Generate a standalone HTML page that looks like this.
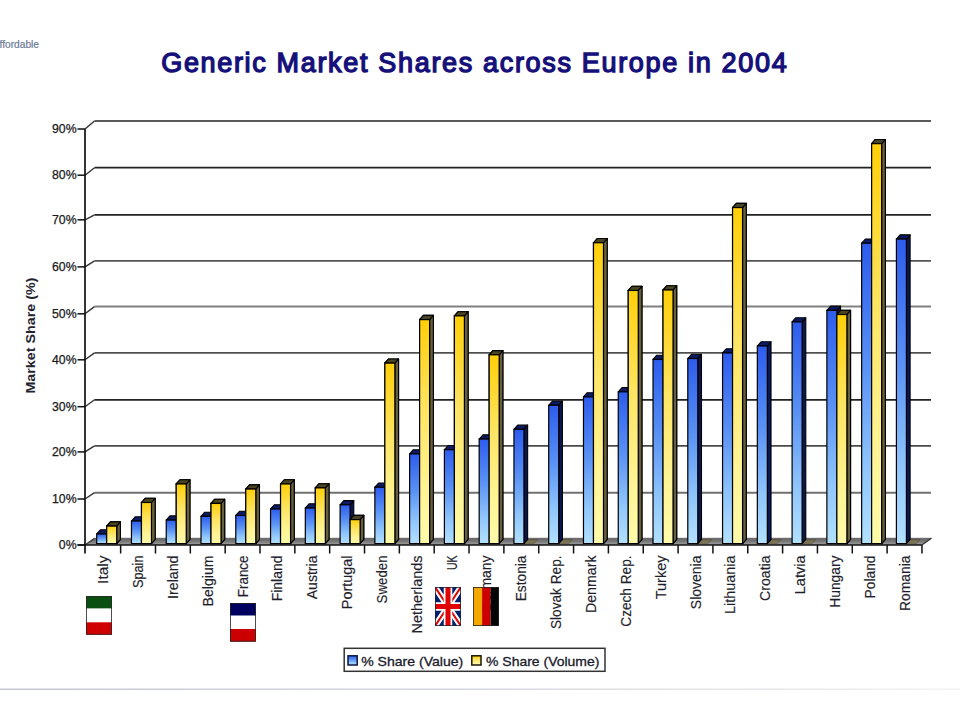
<!DOCTYPE html><html><head><meta charset="utf-8"><style>html,body{margin:0;padding:0;background:#fff;width:960px;height:720px;overflow:hidden}svg{display:block}text{font-family:"Liberation Sans",sans-serif}</style></head><body>
<svg width="960" height="720" viewBox="0 0 960 720">
<defs>
<linearGradient id="gb" x1="0" y1="0" x2="0" y2="1"><stop offset="0" stop-color="#2d5ced"/><stop offset="0.4" stop-color="#5890f4"/><stop offset="0.75" stop-color="#90c6fc"/><stop offset="1" stop-color="#b2e0ff"/></linearGradient>
<linearGradient id="gy" x1="0" y1="0" x2="0" y2="1"><stop offset="0" stop-color="#ffcf08"/><stop offset="0.4" stop-color="#fde462"/><stop offset="0.75" stop-color="#fff394"/><stop offset="1" stop-color="#fffbaa"/></linearGradient>
<linearGradient id="gf" x1="0" y1="0" x2="0" y2="1"><stop offset="0" stop-color="#646464"/><stop offset="0.5" stop-color="#7a7a7a"/><stop offset="1" stop-color="#a4a4a4"/></linearGradient>
<linearGradient id="gl" x1="0" y1="0" x2="1" y2="0"><stop offset="0" stop-color="#c4c8d4"/><stop offset="0.5" stop-color="#d6d8de"/><stop offset="1" stop-color="#f2f2f2"/></linearGradient>
</defs>
<text x="-0.5" y="48.3" font-size="10.5" fill="#6a7898" stroke="#6a7898" stroke-width="0.2" textLength="39.5" lengthAdjust="spacingAndGlyphs">ffordable</text>
<text x="161.2" y="71.7" font-size="27" fill="#16107a" stroke="#16107a" stroke-width="1.35" textLength="625.5" lengthAdjust="spacing">Generic Market Shares across Europe in 2004</text>
<text transform="translate(35.2,393.6) rotate(-90)" font-size="12.6" font-weight="bold" fill="#23232f" textLength="116"  lengthAdjust="spacingAndGlyphs">Market Share (%)</text>
<polygon points="85.0,545.0 921.9,545.0 931.4,538.3 94.5,538.3" fill="url(#gf)"/>
<line x1="94.5" y1="538.3" x2="931.4" y2="538.3" stroke="#666" stroke-width="1"/>
<line x1="85.0" y1="545.0" x2="94.5" y2="538.3" stroke="#333" stroke-width="1.2"/>
<line x1="921.9" y1="545.0" x2="931.4" y2="538.3" stroke="#333" stroke-width="1.2"/>
<polyline points="94.5,121 931,121" fill="none" stroke="#5a5a5a" stroke-width="1.9"/>
<line x1="85.0" y1="129.00" x2="94.5" y2="121" stroke="#333" stroke-width="1.4"/>
<polyline points="94.5,167.7 931,167.7" fill="none" stroke="#222222" stroke-width="1.7"/>
<line x1="85.0" y1="175.20" x2="94.5" y2="167.7" stroke="#333" stroke-width="1.4"/>
<polyline points="94.5,214.8 931,214.8" fill="none" stroke="#222222" stroke-width="1.7"/>
<line x1="85.0" y1="219.80" x2="94.5" y2="214.8" stroke="#333" stroke-width="1.4"/>
<polyline points="94.5,260.8 931,260.8" fill="none" stroke="#555555" stroke-width="1.8"/>
<line x1="85.0" y1="266.90" x2="94.5" y2="260.8" stroke="#333" stroke-width="1.4"/>
<polyline points="94.5,306.6 931,306.6" fill="none" stroke="#808080" stroke-width="2.0"/>
<line x1="85.0" y1="313.80" x2="94.5" y2="306.6" stroke="#333" stroke-width="1.4"/>
<polyline points="94.5,352.9 931,352.9" fill="none" stroke="#505050" stroke-width="1.8"/>
<line x1="85.0" y1="359.80" x2="94.5" y2="352.9" stroke="#333" stroke-width="1.4"/>
<polyline points="94.5,399.8 931,399.8" fill="none" stroke="#222222" stroke-width="1.7"/>
<line x1="85.0" y1="406.70" x2="94.5" y2="399.8" stroke="#333" stroke-width="1.4"/>
<polyline points="94.5,445.8 931,445.8" fill="none" stroke="#4a4a4a" stroke-width="1.8"/>
<line x1="85.0" y1="451.90" x2="94.5" y2="445.8" stroke="#333" stroke-width="1.4"/>
<polyline points="94.5,492.7 931,492.7" fill="none" stroke="#707070" stroke-width="1.9"/>
<line x1="85.0" y1="499.00" x2="94.5" y2="492.7" stroke="#333" stroke-width="1.4"/>
<line x1="77.5" y1="545.00" x2="85.0" y2="545.00" stroke="#111" stroke-width="1.5"/>
<text x="76.6" y="548.90" font-size="12.3" fill="#1a1a1a" stroke="#1a1a1a" stroke-width="0.25" text-anchor="end">0%</text>
<line x1="77.5" y1="499.00" x2="85.0" y2="499.00" stroke="#111" stroke-width="1.5"/>
<text x="76.6" y="502.90" font-size="12.3" fill="#1a1a1a" stroke="#1a1a1a" stroke-width="0.25" text-anchor="end">10%</text>
<line x1="77.5" y1="451.90" x2="85.0" y2="451.90" stroke="#111" stroke-width="1.5"/>
<text x="76.6" y="455.80" font-size="12.3" fill="#1a1a1a" stroke="#1a1a1a" stroke-width="0.25" text-anchor="end">20%</text>
<line x1="77.5" y1="406.70" x2="85.0" y2="406.70" stroke="#111" stroke-width="1.5"/>
<text x="76.6" y="410.60" font-size="12.3" fill="#1a1a1a" stroke="#1a1a1a" stroke-width="0.25" text-anchor="end">30%</text>
<line x1="77.5" y1="359.80" x2="85.0" y2="359.80" stroke="#111" stroke-width="1.5"/>
<text x="76.6" y="363.70" font-size="12.3" fill="#1a1a1a" stroke="#1a1a1a" stroke-width="0.25" text-anchor="end">40%</text>
<line x1="77.5" y1="313.80" x2="85.0" y2="313.80" stroke="#111" stroke-width="1.5"/>
<text x="76.6" y="317.70" font-size="12.3" fill="#1a1a1a" stroke="#1a1a1a" stroke-width="0.25" text-anchor="end">50%</text>
<line x1="77.5" y1="266.90" x2="85.0" y2="266.90" stroke="#111" stroke-width="1.5"/>
<text x="76.6" y="270.80" font-size="12.3" fill="#1a1a1a" stroke="#1a1a1a" stroke-width="0.25" text-anchor="end">60%</text>
<line x1="77.5" y1="219.80" x2="85.0" y2="219.80" stroke="#111" stroke-width="1.5"/>
<text x="76.6" y="223.70" font-size="12.3" fill="#1a1a1a" stroke="#1a1a1a" stroke-width="0.25" text-anchor="end">70%</text>
<line x1="77.5" y1="175.20" x2="85.0" y2="175.20" stroke="#111" stroke-width="1.5"/>
<text x="76.6" y="179.10" font-size="12.3" fill="#1a1a1a" stroke="#1a1a1a" stroke-width="0.25" text-anchor="end">80%</text>
<line x1="77.5" y1="129.00" x2="85.0" y2="129.00" stroke="#111" stroke-width="1.5"/>
<text x="76.6" y="132.90" font-size="12.3" fill="#1a1a1a" stroke="#1a1a1a" stroke-width="0.25" text-anchor="end">90%</text>
<polygon points="116.70,543.6 120.40,539.4 120.40,521.91 116.70,526.11" fill="#66603e" stroke="#000" stroke-width="1.1" stroke-linejoin="round"/><polygon points="106.70,526.11 110.40,521.91 120.40,521.91 116.70,526.11" fill="#4a4422" stroke="#000" stroke-width="1.1" stroke-linejoin="round"/><rect x="106.70" y="526.11" width="10.0" height="17.49" fill="url(#gy)" stroke="#000" stroke-width="1.2"/>
<polygon points="106.70,543.6 110.40,539.4 110.40,529.78 106.70,533.98" fill="#0a1650" stroke="#000" stroke-width="1.1" stroke-linejoin="round"/><polygon points="96.70,533.98 100.40,529.78 110.40,529.78 106.70,533.98" fill="#0c1a64" stroke="#000" stroke-width="1.1" stroke-linejoin="round"/><rect x="96.70" y="533.98" width="10.0" height="9.62" fill="url(#gb)" stroke="#000" stroke-width="1.2"/>
<polygon points="151.47,543.6 155.17,539.4 155.17,498.29 151.47,502.49" fill="#66603e" stroke="#000" stroke-width="1.1" stroke-linejoin="round"/><polygon points="141.47,502.49 145.17,498.29 155.17,498.29 151.47,502.49" fill="#4a4422" stroke="#000" stroke-width="1.1" stroke-linejoin="round"/><rect x="141.47" y="502.49" width="10.0" height="41.11" fill="url(#gy)" stroke="#000" stroke-width="1.2"/>
<polygon points="141.47,543.6 145.17,539.4 145.17,516.81 141.47,521.01" fill="#0a1650" stroke="#000" stroke-width="1.1" stroke-linejoin="round"/><polygon points="131.47,521.01 135.17,516.81 145.17,516.81 141.47,521.01" fill="#0c1a64" stroke="#000" stroke-width="1.1" stroke-linejoin="round"/><rect x="131.47" y="521.01" width="10.0" height="22.59" fill="url(#gb)" stroke="#000" stroke-width="1.2"/>
<polygon points="186.24,543.6 189.94,539.4 189.94,479.77 186.24,483.97" fill="#66603e" stroke="#000" stroke-width="1.1" stroke-linejoin="round"/><polygon points="176.24,483.97 179.94,479.77 189.94,479.77 186.24,483.97" fill="#4a4422" stroke="#000" stroke-width="1.1" stroke-linejoin="round"/><rect x="176.24" y="483.97" width="10.0" height="59.63" fill="url(#gy)" stroke="#000" stroke-width="1.2"/>
<polygon points="176.24,543.6 179.94,539.4 179.94,515.89 176.24,520.09" fill="#0a1650" stroke="#000" stroke-width="1.1" stroke-linejoin="round"/><polygon points="166.24,520.09 169.94,515.89 179.94,515.89 176.24,520.09" fill="#0c1a64" stroke="#000" stroke-width="1.1" stroke-linejoin="round"/><rect x="166.24" y="520.09" width="10.0" height="23.51" fill="url(#gb)" stroke="#000" stroke-width="1.2"/>
<polygon points="221.01,543.6 224.71,539.4 224.71,499.22 221.01,503.42" fill="#66603e" stroke="#000" stroke-width="1.1" stroke-linejoin="round"/><polygon points="211.01,503.42 214.71,499.22 224.71,499.22 221.01,503.42" fill="#4a4422" stroke="#000" stroke-width="1.1" stroke-linejoin="round"/><rect x="211.01" y="503.42" width="10.0" height="40.18" fill="url(#gy)" stroke="#000" stroke-width="1.2"/>
<polygon points="211.01,543.6 214.71,539.4 214.71,512.18 211.01,516.38" fill="#0a1650" stroke="#000" stroke-width="1.1" stroke-linejoin="round"/><polygon points="201.01,516.38 204.71,512.18 214.71,512.18 211.01,516.38" fill="#0c1a64" stroke="#000" stroke-width="1.1" stroke-linejoin="round"/><rect x="201.01" y="516.38" width="10.0" height="27.22" fill="url(#gb)" stroke="#000" stroke-width="1.2"/>
<polygon points="255.78,543.6 259.48,539.4 259.48,484.87 255.78,489.07" fill="#66603e" stroke="#000" stroke-width="1.1" stroke-linejoin="round"/><polygon points="245.78,489.07 249.48,484.87 259.48,484.87 255.78,489.07" fill="#4a4422" stroke="#000" stroke-width="1.1" stroke-linejoin="round"/><rect x="245.78" y="489.07" width="10.0" height="54.53" fill="url(#gy)" stroke="#000" stroke-width="1.2"/>
<polygon points="245.78,543.6 249.48,539.4 249.48,511.26 245.78,515.46" fill="#0a1650" stroke="#000" stroke-width="1.1" stroke-linejoin="round"/><polygon points="235.78,515.46 239.48,511.26 249.48,511.26 245.78,515.46" fill="#0c1a64" stroke="#000" stroke-width="1.1" stroke-linejoin="round"/><rect x="235.78" y="515.46" width="10.0" height="28.14" fill="url(#gb)" stroke="#000" stroke-width="1.2"/>
<polygon points="290.55,543.6 294.25,539.4 294.25,479.77 290.55,483.97" fill="#66603e" stroke="#000" stroke-width="1.1" stroke-linejoin="round"/><polygon points="280.55,483.97 284.25,479.77 294.25,479.77 290.55,483.97" fill="#4a4422" stroke="#000" stroke-width="1.1" stroke-linejoin="round"/><rect x="280.55" y="483.97" width="10.0" height="59.63" fill="url(#gy)" stroke="#000" stroke-width="1.2"/>
<polygon points="280.55,543.6 284.25,539.4 284.25,504.78 280.55,508.98" fill="#0a1650" stroke="#000" stroke-width="1.1" stroke-linejoin="round"/><polygon points="270.55,508.98 274.25,504.78 284.25,504.78 280.55,508.98" fill="#0c1a64" stroke="#000" stroke-width="1.1" stroke-linejoin="round"/><rect x="270.55" y="508.98" width="10.0" height="34.62" fill="url(#gb)" stroke="#000" stroke-width="1.2"/>
<polygon points="325.32,543.6 329.02,539.4 329.02,483.71 325.32,487.91" fill="#66603e" stroke="#000" stroke-width="1.1" stroke-linejoin="round"/><polygon points="315.32,487.91 319.02,483.71 329.02,483.71 325.32,487.91" fill="#4a4422" stroke="#000" stroke-width="1.1" stroke-linejoin="round"/><rect x="315.32" y="487.91" width="10.0" height="55.69" fill="url(#gy)" stroke="#000" stroke-width="1.2"/>
<polygon points="315.32,543.6 319.02,539.4 319.02,503.85 315.32,508.05" fill="#0a1650" stroke="#000" stroke-width="1.1" stroke-linejoin="round"/><polygon points="305.32,508.05 309.02,503.85 319.02,503.85 315.32,508.05" fill="#0c1a64" stroke="#000" stroke-width="1.1" stroke-linejoin="round"/><rect x="305.32" y="508.05" width="10.0" height="35.55" fill="url(#gb)" stroke="#000" stroke-width="1.2"/>
<polygon points="360.09,543.6 363.79,539.4 363.79,515.42 360.09,519.62" fill="#66603e" stroke="#000" stroke-width="1.1" stroke-linejoin="round"/><polygon points="350.09,519.62 353.79,515.42 363.79,515.42 360.09,519.62" fill="#4a4422" stroke="#000" stroke-width="1.1" stroke-linejoin="round"/><rect x="350.09" y="519.62" width="10.0" height="23.98" fill="url(#gy)" stroke="#000" stroke-width="1.2"/>
<polygon points="350.09,543.6 353.79,539.4 353.79,500.61 350.09,504.81" fill="#0a1650" stroke="#000" stroke-width="1.1" stroke-linejoin="round"/><polygon points="340.09,504.81 343.79,500.61 353.79,500.61 350.09,504.81" fill="#0c1a64" stroke="#000" stroke-width="1.1" stroke-linejoin="round"/><rect x="340.09" y="504.81" width="10.0" height="38.79" fill="url(#gb)" stroke="#000" stroke-width="1.2"/>
<polygon points="394.86,543.6 398.56,539.4 398.56,358.93 394.86,363.13" fill="#66603e" stroke="#000" stroke-width="1.1" stroke-linejoin="round"/><polygon points="384.86,363.13 388.56,358.93 398.56,358.93 394.86,363.13" fill="#4a4422" stroke="#000" stroke-width="1.1" stroke-linejoin="round"/><rect x="384.86" y="363.13" width="10.0" height="180.47" fill="url(#gy)" stroke="#000" stroke-width="1.2"/>
<polygon points="384.86,543.6 388.56,539.4 388.56,483.01 384.86,487.21" fill="#0a1650" stroke="#000" stroke-width="1.1" stroke-linejoin="round"/><polygon points="374.86,487.21 378.56,483.01 388.56,483.01 384.86,487.21" fill="#0c1a64" stroke="#000" stroke-width="1.1" stroke-linejoin="round"/><rect x="374.86" y="487.21" width="10.0" height="56.39" fill="url(#gb)" stroke="#000" stroke-width="1.2"/>
<polygon points="429.63,543.6 433.33,539.4 433.33,315.41 429.63,319.61" fill="#66603e" stroke="#000" stroke-width="1.1" stroke-linejoin="round"/><polygon points="419.63,319.61 423.33,315.41 433.33,315.41 429.63,319.61" fill="#4a4422" stroke="#000" stroke-width="1.1" stroke-linejoin="round"/><rect x="419.63" y="319.61" width="10.0" height="223.99" fill="url(#gy)" stroke="#000" stroke-width="1.2"/>
<polygon points="419.63,543.6 423.33,539.4 423.33,449.68 419.63,453.88" fill="#0a1650" stroke="#000" stroke-width="1.1" stroke-linejoin="round"/><polygon points="409.63,453.88 413.33,449.68 423.33,449.68 419.63,453.88" fill="#0c1a64" stroke="#000" stroke-width="1.1" stroke-linejoin="round"/><rect x="409.63" y="453.88" width="10.0" height="89.72" fill="url(#gb)" stroke="#000" stroke-width="1.2"/>
<polygon points="464.40,543.6 468.10,539.4 468.10,311.70 464.40,315.90" fill="#66603e" stroke="#000" stroke-width="1.1" stroke-linejoin="round"/><polygon points="454.40,315.90 458.10,311.70 468.10,311.70 464.40,315.90" fill="#4a4422" stroke="#000" stroke-width="1.1" stroke-linejoin="round"/><rect x="454.40" y="315.90" width="10.0" height="227.70" fill="url(#gy)" stroke="#000" stroke-width="1.2"/>
<polygon points="454.40,543.6 458.10,539.4 458.10,445.51 454.40,449.71" fill="#0a1650" stroke="#000" stroke-width="1.1" stroke-linejoin="round"/><polygon points="444.40,449.71 448.10,445.51 458.10,445.51 454.40,449.71" fill="#0c1a64" stroke="#000" stroke-width="1.1" stroke-linejoin="round"/><rect x="444.40" y="449.71" width="10.0" height="93.89" fill="url(#gb)" stroke="#000" stroke-width="1.2"/>
<polygon points="499.17,543.6 502.87,539.4 502.87,350.60 499.17,354.80" fill="#66603e" stroke="#000" stroke-width="1.1" stroke-linejoin="round"/><polygon points="489.17,354.80 492.87,350.60 502.87,350.60 499.17,354.80" fill="#4a4422" stroke="#000" stroke-width="1.1" stroke-linejoin="round"/><rect x="489.17" y="354.80" width="10.0" height="188.80" fill="url(#gy)" stroke="#000" stroke-width="1.2"/>
<polygon points="489.17,543.6 492.87,539.4 492.87,434.86 489.17,439.06" fill="#0a1650" stroke="#000" stroke-width="1.1" stroke-linejoin="round"/><polygon points="479.17,439.06 482.87,434.86 492.87,434.86 489.17,439.06" fill="#0c1a64" stroke="#000" stroke-width="1.1" stroke-linejoin="round"/><rect x="479.17" y="439.06" width="10.0" height="104.54" fill="url(#gb)" stroke="#000" stroke-width="1.2"/>
<polygon points="523.94,543.70 527.64,539.50 537.64,539.50 533.94,543.70" fill="#7a6c3a" stroke="#3a3018" stroke-width="0.6" stroke-linejoin="round" opacity="0.6"/>
<polygon points="523.94,543.6 527.64,539.4 527.64,425.14 523.94,429.34" fill="#0a1650" stroke="#000" stroke-width="1.1" stroke-linejoin="round"/><polygon points="513.94,429.34 517.64,425.14 527.64,425.14 523.94,429.34" fill="#0c1a64" stroke="#000" stroke-width="1.1" stroke-linejoin="round"/><rect x="513.94" y="429.34" width="10.0" height="114.26" fill="url(#gb)" stroke="#000" stroke-width="1.2"/>
<polygon points="558.71,543.70 562.41,539.50 572.41,539.50 568.71,543.70" fill="#7a6c3a" stroke="#3a3018" stroke-width="0.6" stroke-linejoin="round" opacity="0.6"/>
<polygon points="558.71,543.6 562.41,539.4 562.41,401.06 558.71,405.26" fill="#0a1650" stroke="#000" stroke-width="1.1" stroke-linejoin="round"/><polygon points="548.71,405.26 552.41,401.06 562.41,401.06 558.71,405.26" fill="#0c1a64" stroke="#000" stroke-width="1.1" stroke-linejoin="round"/><rect x="548.71" y="405.26" width="10.0" height="138.34" fill="url(#gb)" stroke="#000" stroke-width="1.2"/>
<polygon points="603.48,543.6 607.18,539.4 607.18,238.55 603.48,242.75" fill="#66603e" stroke="#000" stroke-width="1.1" stroke-linejoin="round"/><polygon points="593.48,242.75 597.18,238.55 607.18,238.55 603.48,242.75" fill="#4a4422" stroke="#000" stroke-width="1.1" stroke-linejoin="round"/><rect x="593.48" y="242.75" width="10.0" height="300.85" fill="url(#gy)" stroke="#000" stroke-width="1.2"/>
<polygon points="593.48,543.6 597.18,539.4 597.18,392.73 593.48,396.93" fill="#0a1650" stroke="#000" stroke-width="1.1" stroke-linejoin="round"/><polygon points="583.48,396.93 587.18,392.73 597.18,392.73 593.48,396.93" fill="#0c1a64" stroke="#000" stroke-width="1.1" stroke-linejoin="round"/><rect x="583.48" y="396.93" width="10.0" height="146.67" fill="url(#gb)" stroke="#000" stroke-width="1.2"/>
<polygon points="638.25,543.6 641.95,539.4 641.95,286.24 638.25,290.44" fill="#66603e" stroke="#000" stroke-width="1.1" stroke-linejoin="round"/><polygon points="628.25,290.44 631.95,286.24 641.95,286.24 638.25,290.44" fill="#4a4422" stroke="#000" stroke-width="1.1" stroke-linejoin="round"/><rect x="628.25" y="290.44" width="10.0" height="253.16" fill="url(#gy)" stroke="#000" stroke-width="1.2"/>
<polygon points="628.25,543.6 631.95,539.4 631.95,387.64 628.25,391.84" fill="#0a1650" stroke="#000" stroke-width="1.1" stroke-linejoin="round"/><polygon points="618.25,391.84 621.95,387.64 631.95,387.64 628.25,391.84" fill="#0c1a64" stroke="#000" stroke-width="1.1" stroke-linejoin="round"/><rect x="618.25" y="391.84" width="10.0" height="151.76" fill="url(#gb)" stroke="#000" stroke-width="1.2"/>
<polygon points="673.02,543.6 676.72,539.4 676.72,285.78 673.02,289.98" fill="#66603e" stroke="#000" stroke-width="1.1" stroke-linejoin="round"/><polygon points="663.02,289.98 666.72,285.78 676.72,285.78 673.02,289.98" fill="#4a4422" stroke="#000" stroke-width="1.1" stroke-linejoin="round"/><rect x="663.02" y="289.98" width="10.0" height="253.62" fill="url(#gy)" stroke="#000" stroke-width="1.2"/>
<polygon points="663.02,543.6 666.72,539.4 666.72,355.23 663.02,359.43" fill="#0a1650" stroke="#000" stroke-width="1.1" stroke-linejoin="round"/><polygon points="653.02,359.43 656.72,355.23 666.72,355.23 663.02,359.43" fill="#0c1a64" stroke="#000" stroke-width="1.1" stroke-linejoin="round"/><rect x="653.02" y="359.43" width="10.0" height="184.17" fill="url(#gb)" stroke="#000" stroke-width="1.2"/>
<polygon points="697.79,543.70 701.49,539.50 711.49,539.50 707.79,543.70" fill="#7a6c3a" stroke="#3a3018" stroke-width="0.6" stroke-linejoin="round" opacity="0.6"/>
<polygon points="697.79,543.6 701.49,539.4 701.49,354.30 697.79,358.50" fill="#0a1650" stroke="#000" stroke-width="1.1" stroke-linejoin="round"/><polygon points="687.79,358.50 691.49,354.30 701.49,354.30 697.79,358.50" fill="#0c1a64" stroke="#000" stroke-width="1.1" stroke-linejoin="round"/><rect x="687.79" y="358.50" width="10.0" height="185.10" fill="url(#gb)" stroke="#000" stroke-width="1.2"/>
<polygon points="742.56,543.6 746.26,539.4 746.26,203.36 742.56,207.56" fill="#66603e" stroke="#000" stroke-width="1.1" stroke-linejoin="round"/><polygon points="732.56,207.56 736.26,203.36 746.26,203.36 742.56,207.56" fill="#4a4422" stroke="#000" stroke-width="1.1" stroke-linejoin="round"/><rect x="732.56" y="207.56" width="10.0" height="336.04" fill="url(#gy)" stroke="#000" stroke-width="1.2"/>
<polygon points="732.56,543.6 736.26,539.4 736.26,348.74 732.56,352.94" fill="#0a1650" stroke="#000" stroke-width="1.1" stroke-linejoin="round"/><polygon points="722.56,352.94 726.26,348.74 736.26,348.74 732.56,352.94" fill="#0c1a64" stroke="#000" stroke-width="1.1" stroke-linejoin="round"/><rect x="722.56" y="352.94" width="10.0" height="190.66" fill="url(#gb)" stroke="#000" stroke-width="1.2"/>
<polygon points="767.33,543.70 771.03,539.50 781.03,539.50 777.33,543.70" fill="#7a6c3a" stroke="#3a3018" stroke-width="0.6" stroke-linejoin="round" opacity="0.6"/>
<polygon points="767.33,543.6 771.03,539.4 771.03,341.80 767.33,346.00" fill="#0a1650" stroke="#000" stroke-width="1.1" stroke-linejoin="round"/><polygon points="757.33,346.00 761.03,341.80 771.03,341.80 767.33,346.00" fill="#0c1a64" stroke="#000" stroke-width="1.1" stroke-linejoin="round"/><rect x="757.33" y="346.00" width="10.0" height="197.60" fill="url(#gb)" stroke="#000" stroke-width="1.2"/>
<polygon points="802.10,543.70 805.80,539.50 815.80,539.50 812.10,543.70" fill="#7a6c3a" stroke="#3a3018" stroke-width="0.6" stroke-linejoin="round" opacity="0.6"/>
<polygon points="802.10,543.6 805.80,539.4 805.80,317.72 802.10,321.92" fill="#0a1650" stroke="#000" stroke-width="1.1" stroke-linejoin="round"/><polygon points="792.10,321.92 795.80,317.72 805.80,317.72 802.10,321.92" fill="#0c1a64" stroke="#000" stroke-width="1.1" stroke-linejoin="round"/><rect x="792.10" y="321.92" width="10.0" height="221.68" fill="url(#gb)" stroke="#000" stroke-width="1.2"/>
<polygon points="846.87,543.6 850.57,539.4 850.57,310.32 846.87,314.52" fill="#66603e" stroke="#000" stroke-width="1.1" stroke-linejoin="round"/><polygon points="836.87,314.52 840.57,310.32 850.57,310.32 846.87,314.52" fill="#4a4422" stroke="#000" stroke-width="1.1" stroke-linejoin="round"/><rect x="836.87" y="314.52" width="10.0" height="229.08" fill="url(#gy)" stroke="#000" stroke-width="1.2"/>
<polygon points="836.87,543.6 840.57,539.4 840.57,306.15 836.87,310.35" fill="#0a1650" stroke="#000" stroke-width="1.1" stroke-linejoin="round"/><polygon points="826.87,310.35 830.57,306.15 840.57,306.15 836.87,310.35" fill="#0c1a64" stroke="#000" stroke-width="1.1" stroke-linejoin="round"/><rect x="826.87" y="310.35" width="10.0" height="233.25" fill="url(#gb)" stroke="#000" stroke-width="1.2"/>
<polygon points="881.64,543.6 885.34,539.4 885.34,139.47 881.64,143.67" fill="#66603e" stroke="#000" stroke-width="1.1" stroke-linejoin="round"/><polygon points="871.64,143.67 875.34,139.47 885.34,139.47 881.64,143.67" fill="#4a4422" stroke="#000" stroke-width="1.1" stroke-linejoin="round"/><rect x="871.64" y="143.67" width="10.0" height="399.93" fill="url(#gy)" stroke="#000" stroke-width="1.2"/>
<polygon points="871.64,543.6 875.34,539.4 875.34,239.01 871.64,243.21" fill="#0a1650" stroke="#000" stroke-width="1.1" stroke-linejoin="round"/><polygon points="861.64,243.21 865.34,239.01 875.34,239.01 871.64,243.21" fill="#0c1a64" stroke="#000" stroke-width="1.1" stroke-linejoin="round"/><rect x="861.64" y="243.21" width="10.0" height="300.39" fill="url(#gb)" stroke="#000" stroke-width="1.2"/>
<polygon points="906.41,543.70 910.11,539.50 920.11,539.50 916.41,543.70" fill="#7a6c3a" stroke="#3a3018" stroke-width="0.6" stroke-linejoin="round" opacity="0.6"/>
<polygon points="906.41,543.6 910.11,539.4 910.11,234.85 906.41,239.05" fill="#0a1650" stroke="#000" stroke-width="1.1" stroke-linejoin="round"/><polygon points="896.41,239.05 900.11,234.85 910.11,234.85 906.41,239.05" fill="#0c1a64" stroke="#000" stroke-width="1.1" stroke-linejoin="round"/><rect x="896.41" y="239.05" width="10.0" height="304.55" fill="url(#gb)" stroke="#000" stroke-width="1.2"/>
<polygon points="116.70,543.6 120.40,539.4 120.40,521.91 116.70,526.11" fill="#66603e" stroke="#000" stroke-width="1.1" stroke-linejoin="round"/><polygon points="106.70,526.11 110.40,521.91 120.40,521.91 116.70,526.11" fill="#4a4422" stroke="#000" stroke-width="1.1" stroke-linejoin="round"/><rect x="106.70" y="526.11" width="10.0" height="17.49" fill="url(#gy)" stroke="#000" stroke-width="1.2"/>
<polygon points="151.47,543.6 155.17,539.4 155.17,498.29 151.47,502.49" fill="#66603e" stroke="#000" stroke-width="1.1" stroke-linejoin="round"/><polygon points="141.47,502.49 145.17,498.29 155.17,498.29 151.47,502.49" fill="#4a4422" stroke="#000" stroke-width="1.1" stroke-linejoin="round"/><rect x="141.47" y="502.49" width="10.0" height="41.11" fill="url(#gy)" stroke="#000" stroke-width="1.2"/>
<polygon points="186.24,543.6 189.94,539.4 189.94,479.77 186.24,483.97" fill="#66603e" stroke="#000" stroke-width="1.1" stroke-linejoin="round"/><polygon points="176.24,483.97 179.94,479.77 189.94,479.77 186.24,483.97" fill="#4a4422" stroke="#000" stroke-width="1.1" stroke-linejoin="round"/><rect x="176.24" y="483.97" width="10.0" height="59.63" fill="url(#gy)" stroke="#000" stroke-width="1.2"/>
<polygon points="221.01,543.6 224.71,539.4 224.71,499.22 221.01,503.42" fill="#66603e" stroke="#000" stroke-width="1.1" stroke-linejoin="round"/><polygon points="211.01,503.42 214.71,499.22 224.71,499.22 221.01,503.42" fill="#4a4422" stroke="#000" stroke-width="1.1" stroke-linejoin="round"/><rect x="211.01" y="503.42" width="10.0" height="40.18" fill="url(#gy)" stroke="#000" stroke-width="1.2"/>
<polygon points="255.78,543.6 259.48,539.4 259.48,484.87 255.78,489.07" fill="#66603e" stroke="#000" stroke-width="1.1" stroke-linejoin="round"/><polygon points="245.78,489.07 249.48,484.87 259.48,484.87 255.78,489.07" fill="#4a4422" stroke="#000" stroke-width="1.1" stroke-linejoin="round"/><rect x="245.78" y="489.07" width="10.0" height="54.53" fill="url(#gy)" stroke="#000" stroke-width="1.2"/>
<polygon points="290.55,543.6 294.25,539.4 294.25,479.77 290.55,483.97" fill="#66603e" stroke="#000" stroke-width="1.1" stroke-linejoin="round"/><polygon points="280.55,483.97 284.25,479.77 294.25,479.77 290.55,483.97" fill="#4a4422" stroke="#000" stroke-width="1.1" stroke-linejoin="round"/><rect x="280.55" y="483.97" width="10.0" height="59.63" fill="url(#gy)" stroke="#000" stroke-width="1.2"/>
<polygon points="325.32,543.6 329.02,539.4 329.02,483.71 325.32,487.91" fill="#66603e" stroke="#000" stroke-width="1.1" stroke-linejoin="round"/><polygon points="315.32,487.91 319.02,483.71 329.02,483.71 325.32,487.91" fill="#4a4422" stroke="#000" stroke-width="1.1" stroke-linejoin="round"/><rect x="315.32" y="487.91" width="10.0" height="55.69" fill="url(#gy)" stroke="#000" stroke-width="1.2"/>
<polygon points="360.09,543.6 363.79,539.4 363.79,515.42 360.09,519.62" fill="#66603e" stroke="#000" stroke-width="1.1" stroke-linejoin="round"/><polygon points="350.09,519.62 353.79,515.42 363.79,515.42 360.09,519.62" fill="#4a4422" stroke="#000" stroke-width="1.1" stroke-linejoin="round"/><rect x="350.09" y="519.62" width="10.0" height="23.98" fill="url(#gy)" stroke="#000" stroke-width="1.2"/>
<polygon points="394.86,543.6 398.56,539.4 398.56,358.93 394.86,363.13" fill="#66603e" stroke="#000" stroke-width="1.1" stroke-linejoin="round"/><polygon points="384.86,363.13 388.56,358.93 398.56,358.93 394.86,363.13" fill="#4a4422" stroke="#000" stroke-width="1.1" stroke-linejoin="round"/><rect x="384.86" y="363.13" width="10.0" height="180.47" fill="url(#gy)" stroke="#000" stroke-width="1.2"/>
<polygon points="429.63,543.6 433.33,539.4 433.33,315.41 429.63,319.61" fill="#66603e" stroke="#000" stroke-width="1.1" stroke-linejoin="round"/><polygon points="419.63,319.61 423.33,315.41 433.33,315.41 429.63,319.61" fill="#4a4422" stroke="#000" stroke-width="1.1" stroke-linejoin="round"/><rect x="419.63" y="319.61" width="10.0" height="223.99" fill="url(#gy)" stroke="#000" stroke-width="1.2"/>
<polygon points="464.40,543.6 468.10,539.4 468.10,311.70 464.40,315.90" fill="#66603e" stroke="#000" stroke-width="1.1" stroke-linejoin="round"/><polygon points="454.40,315.90 458.10,311.70 468.10,311.70 464.40,315.90" fill="#4a4422" stroke="#000" stroke-width="1.1" stroke-linejoin="round"/><rect x="454.40" y="315.90" width="10.0" height="227.70" fill="url(#gy)" stroke="#000" stroke-width="1.2"/>
<polygon points="499.17,543.6 502.87,539.4 502.87,350.60 499.17,354.80" fill="#66603e" stroke="#000" stroke-width="1.1" stroke-linejoin="round"/><polygon points="489.17,354.80 492.87,350.60 502.87,350.60 499.17,354.80" fill="#4a4422" stroke="#000" stroke-width="1.1" stroke-linejoin="round"/><rect x="489.17" y="354.80" width="10.0" height="188.80" fill="url(#gy)" stroke="#000" stroke-width="1.2"/>
<polygon points="603.48,543.6 607.18,539.4 607.18,238.55 603.48,242.75" fill="#66603e" stroke="#000" stroke-width="1.1" stroke-linejoin="round"/><polygon points="593.48,242.75 597.18,238.55 607.18,238.55 603.48,242.75" fill="#4a4422" stroke="#000" stroke-width="1.1" stroke-linejoin="round"/><rect x="593.48" y="242.75" width="10.0" height="300.85" fill="url(#gy)" stroke="#000" stroke-width="1.2"/>
<polygon points="638.25,543.6 641.95,539.4 641.95,286.24 638.25,290.44" fill="#66603e" stroke="#000" stroke-width="1.1" stroke-linejoin="round"/><polygon points="628.25,290.44 631.95,286.24 641.95,286.24 638.25,290.44" fill="#4a4422" stroke="#000" stroke-width="1.1" stroke-linejoin="round"/><rect x="628.25" y="290.44" width="10.0" height="253.16" fill="url(#gy)" stroke="#000" stroke-width="1.2"/>
<polygon points="673.02,543.6 676.72,539.4 676.72,285.78 673.02,289.98" fill="#66603e" stroke="#000" stroke-width="1.1" stroke-linejoin="round"/><polygon points="663.02,289.98 666.72,285.78 676.72,285.78 673.02,289.98" fill="#4a4422" stroke="#000" stroke-width="1.1" stroke-linejoin="round"/><rect x="663.02" y="289.98" width="10.0" height="253.62" fill="url(#gy)" stroke="#000" stroke-width="1.2"/>
<polygon points="742.56,543.6 746.26,539.4 746.26,203.36 742.56,207.56" fill="#66603e" stroke="#000" stroke-width="1.1" stroke-linejoin="round"/><polygon points="732.56,207.56 736.26,203.36 746.26,203.36 742.56,207.56" fill="#4a4422" stroke="#000" stroke-width="1.1" stroke-linejoin="round"/><rect x="732.56" y="207.56" width="10.0" height="336.04" fill="url(#gy)" stroke="#000" stroke-width="1.2"/>
<polygon points="846.87,543.6 850.57,539.4 850.57,310.32 846.87,314.52" fill="#66603e" stroke="#000" stroke-width="1.1" stroke-linejoin="round"/><polygon points="836.87,314.52 840.57,310.32 850.57,310.32 846.87,314.52" fill="#4a4422" stroke="#000" stroke-width="1.1" stroke-linejoin="round"/><rect x="836.87" y="314.52" width="10.0" height="229.08" fill="url(#gy)" stroke="#000" stroke-width="1.2"/>
<polygon points="881.64,543.6 885.34,539.4 885.34,139.47 881.64,143.67" fill="#66603e" stroke="#000" stroke-width="1.1" stroke-linejoin="round"/><polygon points="871.64,143.67 875.34,139.47 885.34,139.47 881.64,143.67" fill="#4a4422" stroke="#000" stroke-width="1.1" stroke-linejoin="round"/><rect x="871.64" y="143.67" width="10.0" height="399.93" fill="url(#gy)" stroke="#000" stroke-width="1.2"/>
<line x1="85.0" y1="129.00" x2="85.0" y2="553.5" stroke="#111" stroke-width="1.7"/>
<line x1="77.5" y1="545.0" x2="921.9" y2="545.0" stroke="#111" stroke-width="1.7"/>
<line x1="120.64" y1="545.0" x2="120.64" y2="553.5" stroke="#111" stroke-width="1.5"/>
<line x1="155.48" y1="545.0" x2="155.48" y2="553.5" stroke="#111" stroke-width="1.5"/>
<line x1="190.32" y1="545.0" x2="190.32" y2="553.5" stroke="#111" stroke-width="1.5"/>
<line x1="225.16" y1="545.0" x2="225.16" y2="553.5" stroke="#111" stroke-width="1.5"/>
<line x1="260.00" y1="545.0" x2="260.00" y2="553.5" stroke="#111" stroke-width="1.5"/>
<line x1="294.84" y1="545.0" x2="294.84" y2="553.5" stroke="#111" stroke-width="1.5"/>
<line x1="329.68" y1="545.0" x2="329.68" y2="553.5" stroke="#111" stroke-width="1.5"/>
<line x1="364.52" y1="545.0" x2="364.52" y2="553.5" stroke="#111" stroke-width="1.5"/>
<line x1="399.36" y1="545.0" x2="399.36" y2="553.5" stroke="#111" stroke-width="1.5"/>
<line x1="434.20" y1="545.0" x2="434.20" y2="553.5" stroke="#111" stroke-width="1.5"/>
<line x1="469.04" y1="545.0" x2="469.04" y2="553.5" stroke="#111" stroke-width="1.5"/>
<line x1="503.88" y1="545.0" x2="503.88" y2="553.5" stroke="#111" stroke-width="1.5"/>
<line x1="538.72" y1="545.0" x2="538.72" y2="553.5" stroke="#111" stroke-width="1.5"/>
<line x1="573.56" y1="545.0" x2="573.56" y2="553.5" stroke="#111" stroke-width="1.5"/>
<line x1="608.40" y1="545.0" x2="608.40" y2="553.5" stroke="#111" stroke-width="1.5"/>
<line x1="643.24" y1="545.0" x2="643.24" y2="553.5" stroke="#111" stroke-width="1.5"/>
<line x1="678.08" y1="545.0" x2="678.08" y2="553.5" stroke="#111" stroke-width="1.5"/>
<line x1="712.92" y1="545.0" x2="712.92" y2="553.5" stroke="#111" stroke-width="1.5"/>
<line x1="747.76" y1="545.0" x2="747.76" y2="553.5" stroke="#111" stroke-width="1.5"/>
<line x1="782.60" y1="545.0" x2="782.60" y2="553.5" stroke="#111" stroke-width="1.5"/>
<line x1="817.44" y1="545.0" x2="817.44" y2="553.5" stroke="#111" stroke-width="1.5"/>
<line x1="852.28" y1="545.0" x2="852.28" y2="553.5" stroke="#111" stroke-width="1.5"/>
<line x1="887.12" y1="545.0" x2="887.12" y2="553.5" stroke="#111" stroke-width="1.5"/>
<line x1="921.96" y1="545.0" x2="921.96" y2="553.5" stroke="#111" stroke-width="1.5"/>
<text transform="translate(108.22,555.5) rotate(-90)" font-size="14" fill="#1e1e2c" stroke="#1e1e2c" stroke-width="0.15" text-anchor="end" textLength="28.4" lengthAdjust="spacingAndGlyphs">Italy</text>
<text transform="translate(143.06,555.5) rotate(-90)" font-size="14" fill="#1e1e2c" stroke="#1e1e2c" stroke-width="0.15" text-anchor="end" textLength="32.5" lengthAdjust="spacingAndGlyphs">Spain</text>
<text transform="translate(177.90,555.5) rotate(-90)" font-size="14" fill="#1e1e2c" stroke="#1e1e2c" stroke-width="0.15" text-anchor="end" textLength="43.400000000000006" lengthAdjust="spacingAndGlyphs">Ireland</text>
<text transform="translate(212.74,555.5) rotate(-90)" font-size="14" fill="#1e1e2c" stroke="#1e1e2c" stroke-width="0.15" text-anchor="end" textLength="50.900000000000006" lengthAdjust="spacingAndGlyphs">Belgium</text>
<text transform="translate(247.58,555.5) rotate(-90)" font-size="14" fill="#1e1e2c" stroke="#1e1e2c" stroke-width="0.15" text-anchor="end" textLength="41.7" lengthAdjust="spacingAndGlyphs">France</text>
<text transform="translate(282.42,555.5) rotate(-90)" font-size="14" fill="#1e1e2c" stroke="#1e1e2c" stroke-width="0.15" text-anchor="end" textLength="45.800000000000004" lengthAdjust="spacingAndGlyphs">Finland</text>
<text transform="translate(317.26,555.5) rotate(-90)" font-size="14" fill="#1e1e2c" stroke="#1e1e2c" stroke-width="0.15" text-anchor="end" textLength="43.800000000000004" lengthAdjust="spacingAndGlyphs">Austria</text>
<text transform="translate(352.10,555.5) rotate(-90)" font-size="14" fill="#1e1e2c" stroke="#1e1e2c" stroke-width="0.15" text-anchor="end" textLength="53.7" lengthAdjust="spacingAndGlyphs">Portugal</text>
<text transform="translate(386.94,555.5) rotate(-90)" font-size="14" fill="#1e1e2c" stroke="#1e1e2c" stroke-width="0.15" text-anchor="end" textLength="47.900000000000006" lengthAdjust="spacingAndGlyphs">Sweden</text>
<text transform="translate(421.78,555.5) rotate(-90)" font-size="14" fill="#1e1e2c" stroke="#1e1e2c" stroke-width="0.15" text-anchor="end" textLength="77.9" lengthAdjust="spacingAndGlyphs">Netherlands</text>
<text transform="translate(456.62,555.5) rotate(-90)" font-size="14" fill="#1e1e2c" stroke="#1e1e2c" stroke-width="0.15" text-anchor="end" textLength="14.6" lengthAdjust="spacingAndGlyphs">UK</text>
<text transform="translate(491.46,555.5) rotate(-90)" font-size="14" fill="#1e1e2c" stroke="#1e1e2c" stroke-width="0.15" text-anchor="end" textLength="57.2" lengthAdjust="spacingAndGlyphs">Germany</text>
<text transform="translate(526.30,555.5) rotate(-90)" font-size="14" fill="#1e1e2c" stroke="#1e1e2c" stroke-width="0.15" text-anchor="end" textLength="45.800000000000004" lengthAdjust="spacingAndGlyphs">Estonia</text>
<text transform="translate(561.14,555.5) rotate(-90)" font-size="14" fill="#1e1e2c" stroke="#1e1e2c" stroke-width="0.15" text-anchor="end" textLength="73.5" lengthAdjust="spacingAndGlyphs">Slovak Rep.</text>
<text transform="translate(595.98,555.5) rotate(-90)" font-size="14" fill="#1e1e2c" stroke="#1e1e2c" stroke-width="0.15" text-anchor="end" textLength="57.5" lengthAdjust="spacingAndGlyphs">Denmark</text>
<text transform="translate(630.82,555.5) rotate(-90)" font-size="14" fill="#1e1e2c" stroke="#1e1e2c" stroke-width="0.15" text-anchor="end" textLength="71.2" lengthAdjust="spacingAndGlyphs">Czech Rep.</text>
<text transform="translate(665.66,555.5) rotate(-90)" font-size="14" fill="#1e1e2c" stroke="#1e1e2c" stroke-width="0.15" text-anchor="end" textLength="43.800000000000004" lengthAdjust="spacingAndGlyphs">Turkey</text>
<text transform="translate(700.50,555.5) rotate(-90)" font-size="14" fill="#1e1e2c" stroke="#1e1e2c" stroke-width="0.15" text-anchor="end" textLength="53.7" lengthAdjust="spacingAndGlyphs">Slovenia</text>
<text transform="translate(735.34,555.5) rotate(-90)" font-size="14" fill="#1e1e2c" stroke="#1e1e2c" stroke-width="0.15" text-anchor="end" textLength="58.400000000000006" lengthAdjust="spacingAndGlyphs">Lithuania</text>
<text transform="translate(770.18,555.5) rotate(-90)" font-size="14" fill="#1e1e2c" stroke="#1e1e2c" stroke-width="0.15" text-anchor="end" textLength="45.400000000000006" lengthAdjust="spacingAndGlyphs">Croatia</text>
<text transform="translate(805.02,555.5) rotate(-90)" font-size="14" fill="#1e1e2c" stroke="#1e1e2c" stroke-width="0.15" text-anchor="end" textLength="38.800000000000004" lengthAdjust="spacingAndGlyphs">Latvia</text>
<text transform="translate(839.86,555.5) rotate(-90)" font-size="14" fill="#1e1e2c" stroke="#1e1e2c" stroke-width="0.15" text-anchor="end" textLength="52.300000000000004" lengthAdjust="spacingAndGlyphs">Hungary</text>
<text transform="translate(874.70,555.5) rotate(-90)" font-size="14" fill="#1e1e2c" stroke="#1e1e2c" stroke-width="0.15" text-anchor="end" textLength="42.900000000000006" lengthAdjust="spacingAndGlyphs">Poland</text>
<text transform="translate(909.54,555.5) rotate(-90)" font-size="14" fill="#1e1e2c" stroke="#1e1e2c" stroke-width="0.15" text-anchor="end" textLength="55.400000000000006" lengthAdjust="spacingAndGlyphs">Romania</text>
<rect x="86.1" y="596.1" width="25.8" height="12.5" fill="#0b4f10"/><rect x="86.1" y="608.6" width="25.8" height="13.7" fill="#ffffff"/><rect x="86.1" y="622.3" width="25.8" height="12.5" fill="#d00000"/>
<rect x="86.6" y="596.6" width="24.8" height="37.7" fill="none" stroke="#222" stroke-width="0.8"/>
<rect x="230" y="603" width="25.9" height="12.7" fill="#000060"/><rect x="230" y="615.7" width="25.9" height="13.3" fill="#ffffff"/><rect x="230" y="629" width="25.9" height="12.7" fill="#cc0000"/>
<rect x="230.5" y="603.5" width="24.9" height="37.7" fill="none" stroke="#222" stroke-width="0.8"/>
<svg x="435" y="587" width="26" height="39" viewBox="0 0 26 39" preserveAspectRatio="none"><rect width="26" height="39" fill="#00206e"/><path d="M0,0 L26,39 M26,0 L0,39" stroke="#fff" stroke-width="6"/><path d="M0,0 L13,19.5 M26,39 L13,19.5 M26,0 L13,19.5 M0,39 L13,19.5" stroke="#e00000" stroke-width="2"/><path d="M13,0 V39 M0,19.5 H26" stroke="#fff" stroke-width="8.5"/><path d="M13,0 V39 M0,19.5 H26" stroke="#e00000" stroke-width="5"/><rect x="0.4" y="0.4" width="25.2" height="38.2" fill="none" stroke="#223" stroke-width="0.8"/></svg>
<rect x="473.1" y="587" width="9" height="39" fill="#f5a800"/><rect x="482.1" y="587" width="8.5" height="39" fill="#cc0000"/><rect x="490.6" y="587" width="8.4" height="39" fill="#050505"/>
<rect x="473.5" y="587.4" width="25.1" height="38.2" fill="none" stroke="#222" stroke-width="0.8"/>
<rect x="344.2" y="648.3" width="260.8" height="23" fill="#fff" stroke="#333" stroke-width="1.5"/>
<rect x="348" y="655.8" width="9.2" height="9.2" fill="url(#gb)" stroke="#0b1640" stroke-width="1.5"/>
<text x="361.2" y="666.2" font-size="12.9" fill="#1a1a2a" stroke="#1a1a2a" stroke-width="0.3" textLength="102" lengthAdjust="spacingAndGlyphs">% Share (Value)</text>
<rect x="471.8" y="655.8" width="9.2" height="9.2" fill="url(#gy)" stroke="#1b1606" stroke-width="1.5"/>
<text x="486" y="666.2" font-size="12.9" fill="#1a1a2a" stroke="#1a1a2a" stroke-width="0.3" textLength="113.4" lengthAdjust="spacingAndGlyphs">% Share (Volume)</text>
<rect x="0" y="688.5" width="960" height="1.5" fill="url(#gl)"/>
</svg></body></html>
